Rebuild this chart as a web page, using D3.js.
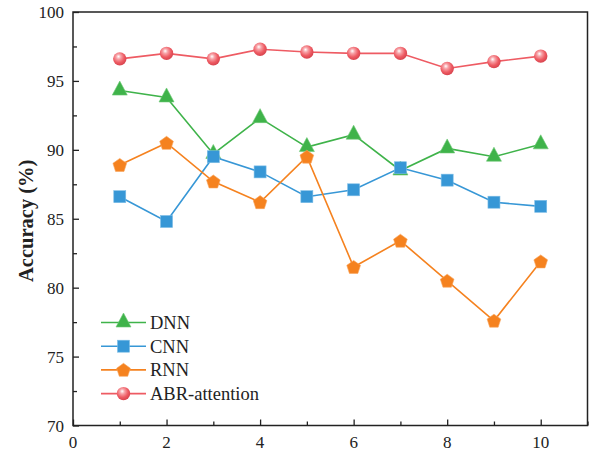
<!DOCTYPE html>
<html lang="en">
<head>
<meta charset="UTF-8" />
<title>Accuracy comparison</title>
<script src="https://d3js.org/d3.v7.min.js"></script>
<style>
  body { margin: 0; background: #fff; }
  svg { display: block; font-family: "Liberation Serif", "Times New Roman", serif; }
  .tick-label { font-size: 17px; fill: #222; }
  .legend text { font-size: 18.5px; fill: #222; }
</style>
</head>
<body>
<svg width="595" height="452"></svg>
<script>
  // data
  const xs = [1, 2, 3, 4, 5, 6, 7, 8, 9, 10];
  const dnn = [94.3, 93.8, 89.7, 92.3, 90.2, 91.1, 88.5, 90.1, 89.5, 90.4];
  const cnn = [86.6, 84.8, 89.5, 88.4, 86.6, 87.1, 88.7, 87.8, 86.2, 85.9];
  const rnn = [88.9, 90.5, 87.7, 86.2, 89.5, 81.5, 83.4, 80.5, 77.6, 81.9];
  const abr = [96.6, 97.0, 96.6, 97.3, 97.1, 97.0, 97.0, 95.9, 96.4, 96.8];
  const xTicks = [0, 2, 4, 6, 8, 10];
  const yTicks = [70, 75, 80, 85, 90, 95, 100];

  const series = [
    { name: "DNN", values: dnn, color: "#3fb34a", shape: "triangle" },
    { name: "CNN", values: cnn, color: "#3797d6", shape: "square" },
    { name: "RNN", values: rnn, color: "#f5821f", shape: "pentagon" },
    { name: "ABR-attention", values: abr, color: "#ee5b63", shape: "ball" }
  ];

  const margin = { left: 73, top: 12, right: 7.5, bottom: 26.5 };
  const width = 595, height = 452;
  const svg = d3.select("svg");

  const x = d3.scaleLinear().domain([0, 11]).range([margin.left, width - margin.right]);
  const y = d3.scaleLinear().domain([70, 100]).range([height - margin.bottom, margin.top]);

  // gradient for the shiny balls
  const grad = svg.append("defs").append("radialGradient")
    .attr("id", "ball").attr("cx", "0.42").attr("cy", "0.38").attr("r", "0.6")
    .attr("fx", "0.4").attr("fy", "0.32");
  grad.append("stop").attr("offset", "0%").attr("stop-color", "#ffffff");
  grad.append("stop").attr("offset", "30%").attr("stop-color", "#f7a3a8");
  grad.append("stop").attr("offset", "70%").attr("stop-color", "#ee5b63");
  grad.append("stop").attr("offset", "100%").attr("stop-color", "#d94650");

  // axes (ticks point inward)
  const xAxis = svg.append("g").attr("transform", `translate(0,${y(70)})`)
    .call(d3.axisTop(x).tickValues(d3.range(0, 12, 1)).tickSize(5).tickFormat(""));
  xAxis.selectAll(".tick line").attr("y2", d => d % 2 === 0 ? -6 : -4);
  xAxis.select(".domain").remove();

  const yAxis = svg.append("g").attr("transform", `translate(${x(0)},0)`)
    .call(d3.axisRight(y).tickValues(d3.range(70, 100.1, 2.5)).tickSize(5).tickFormat(""));
  yAxis.selectAll(".tick line").attr("x2", d => d % 5 === 0 ? 6 : 4);
  yAxis.select(".domain").remove();
  svg.selectAll(".tick line").attr("stroke", "#222").attr("stroke-width", 1.3);

  svg.append("g").selectAll("text").data(xTicks).join("text")
    .attr("class", "tick-label")
    .attr("x", d => x(d)).attr("y", y(70) + 22)
    .attr("text-anchor", "middle").text(d => d);

  svg.append("g").selectAll("text").data(yTicks).join("text")
    .attr("class", "tick-label")
    .attr("x", x(0) - 9).attr("y", d => y(d) + 6)
    .attr("text-anchor", "end").text(d => d);

  svg.append("text")
    .attr("transform", `translate(33,${(y(70) + y(100)) / 2 + 2}) rotate(-90)`)
    .attr("text-anchor", "middle")
    .style("font-size", "20.5px").style("font-weight", "bold").attr("fill", "#222")
    .text("Accuracy (%)");

  // markers
  function drawMarker(g, shape, color) {
    if (shape === "triangle") {
      g.append("path").attr("d", "M0,-9.5L7.5,4.5L-7.5,4.5Z")
        .attr("fill", color).attr("stroke", "#6cc874").attr("stroke-width", 0.6);
    } else if (shape === "square") {
      g.append("rect").attr("x", -6).attr("y", -6).attr("width", 12).attr("height", 12)
        .attr("fill", color).attr("stroke", "#7cbde6").attr("stroke-width", 0.6);
    } else if (shape === "pentagon") {
      const pts = d3.range(5).map(i => {
        const a = -Math.PI / 2 + i * 2 * Math.PI / 5;
        return [7.2 * Math.cos(a), 7.2 * Math.sin(a) + 0.6];
      });
      g.append("path").attr("d", "M" + pts.join("L") + "Z")
        .attr("fill", color).attr("stroke", "#f9a45c").attr("stroke-width", 0.6);
    } else {
      g.append("circle").attr("r", 6.7).attr("fill", "url(#ball)");
    }
  }

  const line = d3.line().x((d, i) => x(xs[i])).y(d => y(d));

  series.forEach(s => {
    svg.append("path").datum(s.values)
      .attr("d", line).attr("fill", "none")
      .attr("stroke", s.color).attr("stroke-width", 1.6);
    s.values.forEach((v, i) => {
      const g = svg.append("g").attr("transform", `translate(${x(xs[i])},${y(v)})`);
      drawMarker(g, s.shape, s.color);
    });
  });

  // frame
  svg.append("rect")
    .attr("x", x(0)).attr("y", y(100))
    .attr("width", x(11) - x(0)).attr("height", y(70) - y(100))
    .attr("fill", "none").attr("stroke", "#222").attr("stroke-width", 1.5);

  // legend
  const legend = svg.append("g").attr("class", "legend");
  series.forEach((s, i) => {
    const ly = 322.5 + i * 23.7;
    const g = legend.append("g");
    g.append("line").attr("x1", 101).attr("x2", 146).attr("y1", ly).attr("y2", ly)
      .attr("stroke", s.color).attr("stroke-width", 1.6);
    const m = g.append("g").attr("transform", `translate(123.5,${ly})`);
    drawMarker(m, s.shape, s.color);
    g.append("text").attr("x", 150).attr("y", ly + 6.5).text(s.name);
  });
</script>
</body>
</html>
